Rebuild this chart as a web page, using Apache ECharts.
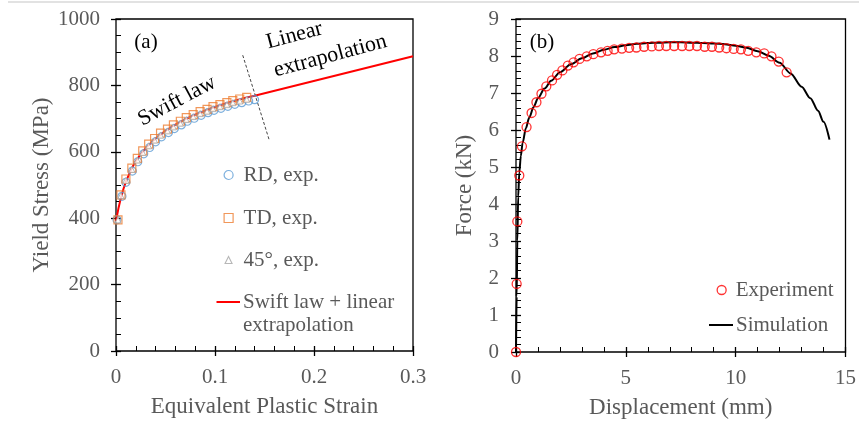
<!DOCTYPE html>
<html>
<head>
<meta charset="utf-8">
<script src="https://cdn.jsdelivr.net/npm/echarts@6/dist/echarts.min.js"></script>
<style>
  html, body { margin: 0; padding: 0; background: #fff; }
  #chart { width: 859px; height: 424px; }
</style>
</head>
<body>
<div id="chart"></div>
<script>
// ---------- (a) yield stress vs. equivalent plastic strain ----------
const strainRD = [0.001, 0.006, 0.010, 0.0165, 0.022, 0.028, 0.034, 0.040, 0.046, 0.053, 0.059, 0.066, 0.072, 0.079, 0.086, 0.093, 0.099, 0.106, 0.113, 0.120, 0.127, 0.134, 0.140];
const stressRD = [395, 466, 508, 542, 570, 594, 613, 630, 645, 658, 670, 681, 692, 701, 710, 718, 725, 731, 737, 743, 748, 753, 757];

const strainTD = [0.002, 0.005, 0.010, 0.016, 0.0215, 0.027, 0.033, 0.039, 0.045, 0.052, 0.058, 0.065, 0.071, 0.078, 0.085, 0.092, 0.098, 0.105, 0.112, 0.118, 0.125, 0.132];
const stressTD = [395, 470, 518, 551, 580, 603, 623, 640, 656, 668, 681, 692, 703, 712, 721, 728, 736, 742, 748, 754, 759, 764];

const strain45 = [0.002, 0.005, 0.010, 0.016, 0.0215, 0.027, 0.033, 0.039, 0.045, 0.052, 0.058, 0.065, 0.071, 0.078, 0.085, 0.092, 0.098, 0.105, 0.112, 0.118, 0.125, 0.132];
const stress45 = [395, 468, 514, 547, 575, 598, 618, 635, 650, 663, 675, 686, 697, 706, 715, 722, 730, 736, 742, 748, 753, 758];

// Swift-law fit up to the last measured strain, then straight extrapolation to 0.3
const strainFit = [0, 0.0025, 0.005, 0.0075, 0.01, 0.015, 0.02, 0.025, 0.03, 0.035, 0.04, 0.05, 0.06, 0.07, 0.08, 0.09, 0.10, 0.11, 0.12, 0.13, 0.14, 0.30];
const stressFit = [392, 430, 462, 488, 510, 545, 572, 593, 611, 626, 640, 663, 682, 698, 712, 724, 735, 745, 754, 762, 769, 888];

// dashed separator between the two regimes
const dividerStrain = [0.128, 0.1545];
const dividerStress = [891, 638];

const strainTicks = [0, 0.1, 0.2, 0.3];
const stressTicks = [0, 200, 400, 600, 800, 1000];

// ---------- (b) force vs. displacement ----------
const dispExp = [0, 0.03, 0.06, 0.15, 0.27, 0.48, 0.71, 0.93, 1.16, 1.38, 1.64, 1.87, 2.11, 2.36, 2.62, 2.89, 3.22, 3.52, 3.87, 4.17, 4.47, 4.82, 5.15, 5.48, 5.83, 6.18, 6.51, 6.84, 7.20, 7.56, 7.89, 8.24, 8.59, 8.92, 9.25, 9.58, 9.91, 10.24, 10.57, 10.94, 11.30, 11.63, 11.96, 12.32];
const forceExp = [0, 1.84, 3.53, 4.77, 5.56, 6.08, 6.46, 6.75, 6.98, 7.18, 7.34, 7.49, 7.61, 7.74, 7.83, 7.92, 7.99, 8.05, 8.10, 8.14, 8.18, 8.20, 8.22, 8.23, 8.25, 8.26, 8.27, 8.27, 8.27, 8.27, 8.27, 8.27, 8.25, 8.25, 8.23, 8.21, 8.19, 8.18, 8.14, 8.10, 8.07, 7.99, 7.85, 7.56];

const dispSim = [0, 0.03, 0.06, 0.10, 0.15, 0.22, 0.30, 0.45, 0.60, 0.80, 1.0, 1.3, 1.6, 2.0, 2.5, 3.0, 3.5, 4.0, 4.5, 5.0, 5.5, 6.0, 6.5, 7.0, 7.5, 8.0, 8.5, 9.0, 9.5, 10.0, 10.5, 11.0, 11.5, 12.0, 12.5, 13.0, 13.4, 13.75, 14.0, 14.27];
const forceSim = [0, 1.5, 3.0, 4.2, 4.85, 5.3, 5.65, 6.05, 6.33, 6.62, 6.86, 7.12, 7.33, 7.56, 7.78, 7.94, 8.07, 8.17, 8.24, 8.29, 8.33, 8.35, 8.36, 8.37, 8.37, 8.36, 8.35, 8.34, 8.32, 8.28, 8.22, 8.13, 8.01, 7.82, 7.53, 7.17, 6.86, 6.52, 6.22, 5.74];

const dispTicks = [0, 5, 10, 15];
const forceTicks = [0, 1, 2, 3, 4, 5, 6, 7, 8, 9];

// ---------- helpers ----------
const FONT = "'Liberation Serif', 'Times New Roman', serif";
const GREY = '#595959';
const TICK_HALF = 5;   // major ticks straddle the frame by this much on each side
const zip = (xs, ys) => xs.map((x, i) => [x, ys[i]]);
const first = a => a[0];
const last = a => a[a.length - 1];
const plain = v => String(v);

// The axis baseline is shifted TICK_HALF px into the plot so that its outward
// ticks cross the frame; the visible frame line is the grid border.
function axis(grid, ticks, minorSplit, opts) {
  return Object.assign({
    gridIndex: grid, type: 'value', offset: -TICK_HALF,
    min: first(ticks), max: last(ticks), interval: ticks[1] - ticks[0],
    axisLine: { show: true, onZero: false, lineStyle: { color: 'rgba(0,0,0,0)', width: 1 } },
    axisTick: { show: true, inside: false, length: 2 * TICK_HALF, lineStyle: { color: '#000', width: 1.3 } },
    minorTick: { show: true, splitNumber: minorSplit, length: TICK_HALF, lineStyle: { color: '#000', width: 1 } },
    splitLine: { show: false },
    nameLocation: 'middle',
    nameTextStyle: { color: GREY, fontSize: 23, fontFamily: FONT }
  }, opts);
}
function labelStyle(margin, formatter) {
  return { color: GREY, fontSize: 21, fontFamily: FONT, margin: margin + TICK_HALF,
           showMinLabel: true, showMaxLabel: true, formatter: formatter };
}

const legendText = { color: GREY, fontSize: 21, fontFamily: FONT };
function legendItem(name, left, centerY, w, h, icon, itemStyle, textPad, formatter) {
  const d = { name: name };
  if (icon) d.icon = icon;
  if (itemStyle) d.itemStyle = itemStyle;
  const l = {
    data: [d], left: left, top: centerY - 10.5, padding: 0,
    itemWidth: w, itemHeight: h, selectedMode: false,
    textStyle: Object.assign({ padding: [0, 0, 0, textPad] }, legendText)
  };
  if (formatter) l.formatter = formatter;
  return l;
}

const chart = echarts.init(document.getElementById('chart'));

chart.setOption({
  animation: false,
  grid: [
    { left: 116, top: 19, width: 297, height: 332, show: true, borderColor: '#000', borderWidth: 1.3 },
    { left: 516, top: 19, width: 332, height: 333, show: true, borderColor: '#000', borderWidth: 1.3 }
  ],
  xAxis: [
    axis(0, strainTicks, 5, {
      position: 'bottom', name: 'Equivalent Plastic Strain', nameGap: 44 + TICK_HALF,
      axisLabel: labelStyle(16, v => (v === 0 ? '0' : v.toFixed(1)))
    }),
    axis(1, dispTicks, 5, {
      position: 'bottom', name: 'Displacement (mm)', nameGap: 44 + TICK_HALF,
      axisLabel: labelStyle(16, plain)
    })
  ],
  yAxis: [
    axis(0, stressTicks, 4, {
      position: 'left', name: 'Yield Stress (MPa)', nameGap: 63 + TICK_HALF,
      axisLabel: labelStyle(16, plain)
    }),
    axis(1, forceTicks, 5, {
      position: 'left', name: 'Force (kN)', nameGap: 40 + TICK_HALF,
      axisLabel: labelStyle(17, plain)
    })
  ],
  legend: [
    legendItem('RD, exp.', 223.5, 175, 9, 9, 'circle',
      { color: 'rgba(0,0,0,0)', borderColor: '#5B9BD5', borderWidth: 1.2 }, 5.5),
    legendItem('TD, exp.', 223.5, 218, 9, 9, 'rect',
      { color: 'rgba(0,0,0,0)', borderColor: '#ED7D31', borderWidth: 1.2 }, 5.5),
    legendItem('45°, exp.', 224.5, 260, 7, 7, 'triangle',
      { color: '#fff', borderColor: '#A5A5A5', borderWidth: 1.1 }, 6.5),
    legendItem('Swift law + linear extrapolation', 216.5, 302, 23.5, 2, 'rect',
      { color: '#FF0000', borderWidth: 0 }, -2, () => 'Swift law + linear'),
    legendItem('Experiment', 716.5, 290, 9, 9, 'circle',
      { color: 'rgba(0,0,0,0)', borderColor: '#FF0000', borderWidth: 1.3 }, 4.5),
    legendItem('Simulation', 709, 325, 24, 2, 'rect',
      { color: '#000', borderWidth: 0 }, -2)
  ],
  series: [
    {
      name: 'Swift law + linear extrapolation', type: 'line', xAxisIndex: 0, yAxisIndex: 0,
      data: zip(strainFit, stressFit), symbol: 'none', smooth: false,
      lineStyle: { color: '#FF0000', width: 2 }, itemStyle: { color: '#FF0000' }, z: 2
    },
    {
      name: 'RD, exp.', type: 'scatter', xAxisIndex: 0, yAxisIndex: 0,
      data: zip(strainRD, stressRD), symbol: 'circle', symbolSize: 8,
      itemStyle: { color: 'rgba(0,0,0,0)', borderColor: '#5B9BD5', borderWidth: 1.2 }, z: 3
    },
    {
      name: 'TD, exp.', type: 'scatter', xAxisIndex: 0, yAxisIndex: 0,
      data: zip(strainTD, stressTD), symbol: 'rect', symbolSize: 8,
      itemStyle: { color: 'rgba(0,0,0,0)', borderColor: '#ED7D31', borderWidth: 1.2 }, z: 3
    },
    {
      name: '45°, exp.', type: 'scatter', xAxisIndex: 0, yAxisIndex: 0,
      data: zip(strain45, stress45), symbol: 'triangle', symbolSize: 6,
      itemStyle: { color: '#fff', borderColor: '#A5A5A5', borderWidth: 1 }, z: 3
    },
    {
      name: 'divider', type: 'line', xAxisIndex: 0, yAxisIndex: 0,
      data: zip(dividerStrain, dividerStress), symbol: 'none', silent: true,
      lineStyle: { color: '#444', width: 1, type: [3, 2] }, z: 2
    },
    {
      name: 'Simulation', type: 'line', xAxisIndex: 1, yAxisIndex: 1,
      data: zip(dispSim, forceSim), symbol: 'none', smooth: 0.3, smoothMonotone: 'x',
      lineStyle: { color: '#000', width: 2 }, itemStyle: { color: '#000' }, z: 2
    },
    {
      name: 'Experiment', type: 'scatter', xAxisIndex: 1, yAxisIndex: 1,
      data: zip(dispExp, forceExp), symbol: 'circle', symbolSize: 9,
      itemStyle: { color: 'rgba(0,0,0,0)', borderColor: '#FF0000', borderWidth: 1.3 }, z: 3
    }
  ],
  graphic: [
    { type: 'line', shape: { x1: 8, y1: 2, x2: 859, y2: 2 }, style: { stroke: '#d9d9d9', lineWidth: 1.5 }, silent: true },
    { type: 'text', x: 146, y: 42, style: { text: '(a)', font: '21px ' + FONT, fill: '#000', align: 'center', verticalAlign: 'middle' } },
    { type: 'text', x: 542, y: 42, style: { text: '(b)', font: '21px ' + FONT, fill: '#000', align: 'center', verticalAlign: 'middle' } },
    { type: 'text', x: 177, y: 101, rotation: 28 * Math.PI / 180,
      style: { text: 'Swift law', font: '22px ' + FONT, fill: '#000', align: 'center', verticalAlign: 'middle' } },
    { type: 'text', x: 263, y: 29, rotation: 15 * Math.PI / 180,
      style: { text: 'Linear\nextrapolation', font: '22px ' + FONT, lineHeight: 29, fill: '#000', align: 'left', verticalAlign: 'top' } },
    { type: 'text', x: 243, y: 325,
      style: { text: 'extrapolation', font: '21px ' + FONT, fill: GREY, align: 'left', verticalAlign: 'middle' } }
  ]
});
</script>
</body>
</html>
